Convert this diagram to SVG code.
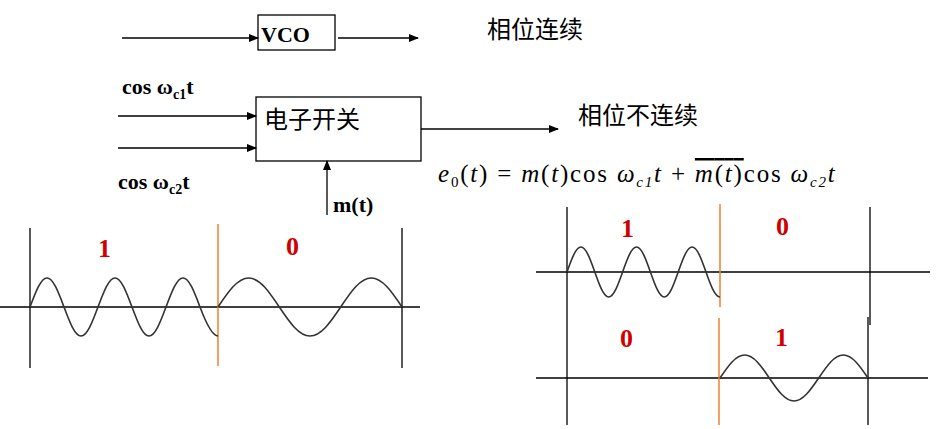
<svg xmlns="http://www.w3.org/2000/svg" width="936" height="429" viewBox="0 0 936 429">
<defs><marker id="ah" markerWidth="10" markerHeight="8" refX="9" refY="4" orient="auto" markerUnits="userSpaceOnUse"><path d="M0,0 L10,4 L0,8 z" fill="#000"/></marker></defs>
<style>
.l{stroke:#000;stroke-width:1.3;fill:none}
.w{stroke:#333;stroke-width:1.6;fill:none}
.o{stroke:#f07f30;stroke-width:1.5}
.b{font-family:"Liberation Serif",serif;font-weight:bold;font-size:22px}
.r{font-family:"Liberation Serif",serif;font-weight:bold;font-size:26px;fill:#d00000}
.c{font-family:"Noto Sans CJK SC",sans-serif;font-size:24px}
.f{font-family:"Liberation Serif",serif;font-style:italic;font-size:25px;letter-spacing:1.8px}
</style>
<rect width="936" height="429" fill="#fff"/>
<g id="vco"><rect x="258" y="15" width="77" height="35" class="l"/><text x="261" y="42" class="b" font-size="25">VCO</text></g>
<g id="switch"><rect x="256" y="97" width="165" height="64" class="l"/><text x="264" y="128" class="c">电子开关</text></g>
<g id="labels">
<text x="487" y="38" class="c">相位连续</text>
<text x="578" y="124" class="c">相位不连续</text>
<text x="122" y="94" class="b">cos ω<tspan font-size="14" dy="5">c1</tspan><tspan dy="-5">t</tspan></text>
<text x="118" y="189" class="b">cos ω<tspan font-size="14" dy="5">c2</tspan><tspan dy="-5">t</tspan></text>
<text x="333" y="212" class="b">m(t)</text>
<text x="438" y="182" class="f">e<tspan font-size="15" dy="5" font-style="normal">0</tspan><tspan dy="-5" font-style="normal">(</tspan>t<tspan font-style="normal">) = </tspan>m<tspan font-style="normal">(</tspan>t<tspan font-style="normal">)cos </tspan>ω<tspan font-size="15" dy="5">c1</tspan><tspan dy="-5">t</tspan><tspan font-style="normal"> + </tspan><tspan text-decoration="overline">m<tspan font-style="normal">(</tspan>t<tspan font-style="normal">)</tspan></tspan><tspan font-style="normal">cos </tspan>ω<tspan font-size="15" dy="5">c2</tspan><tspan dy="-5">t</tspan></text>
</g>
<g id="connectors">
<line x1="122" y1="38" x2="258" y2="38" class="l" marker-end="url(#ah)"/>
<line x1="338" y1="38" x2="418" y2="38" class="l" marker-end="url(#ah)"/>
<line x1="118" y1="116" x2="256" y2="116" class="l" marker-end="url(#ah)"/>
<line x1="118" y1="148" x2="256" y2="148" class="l" marker-end="url(#ah)"/>
<line x1="421" y1="129" x2="558" y2="129" class="l" marker-end="url(#ah)"/>
<line x1="327" y1="215" x2="327" y2="161" class="l" marker-end="url(#ah)"/>
</g>
<g id="left">
<line x1="0" y1="307" x2="420" y2="307" class="l"/>
<line x1="30" y1="228" x2="30" y2="368" class="l"/>
<line x1="402" y1="228" x2="402" y2="368" class="l"/>
<line x1="218" y1="224" x2="218" y2="366" class="o"/>
<path class="w" d="M30 307 C35.7 291.8 40.8 278 47 278 S58.3 291.8 64 307 S74.8 336 81 336 S92.3 322.2 98 307 S108.8 278 115 278 S126.3 291.8 132 307 S142.8 336 149 336 S160.3 322.2 166 307 S176.8 278 183 278 S194.3 291.8 200 307 S211.8 336 218 336"/>
<path class="w" d="M218 307 C228.2 291.8 237.6 278 248.7 278 S269.1 291.8 279.3 307 S298.9 336 310 336 S330.5 322.2 340.7 307 S360.2 278 371.3 278 S391.8 291.8 402 307"/>
<text x="98" y="257" class="r">1</text><text x="286" y="255" class="r">0</text>
</g>
<g id="right">
<line x1="536" y1="272" x2="930" y2="272" class="l"/>
<line x1="536" y1="378" x2="928" y2="378" class="l"/>
<line x1="567" y1="207" x2="567" y2="425" class="l"/>
<line x1="870" y1="207" x2="870" y2="325" class="l"/>
<line x1="868" y1="317" x2="868" y2="425" class="l"/>
<line x1="720" y1="204" x2="720" y2="307" class="o"/>
<line x1="719" y1="318" x2="719" y2="425" class="o"/>
<path class="w" d="M567 272 C571.6 258.9 575.9 247 580.9 247 S590.2 258.9 594.8 272 S603.7 297 608.7 297 S618 285.1 622.6 272 S631.5 247 636.5 247 S645.8 258.9 650.4 272 S659.3 297 664.3 297 S673.6 285.1 678.2 272 S687.1 247 692.1 247 S701.4 258.9 706 272 S714.9 297 720 297"/>
<path class="w" d="M720 378 C728.2 365.9 735.7 355 744.7 355 S761.1 365.9 769.3 378 S785 401 794 401 S810.5 390.1 818.7 378 S834.3 355 843.3 355 S859.8 365.9 868 378"/>
<text x="621" y="237" class="r">1</text><text x="776" y="235" class="r">0</text>
<text x="620" y="347" class="r">0</text><text x="775" y="346" class="r">1</text>
</g>
</svg>
